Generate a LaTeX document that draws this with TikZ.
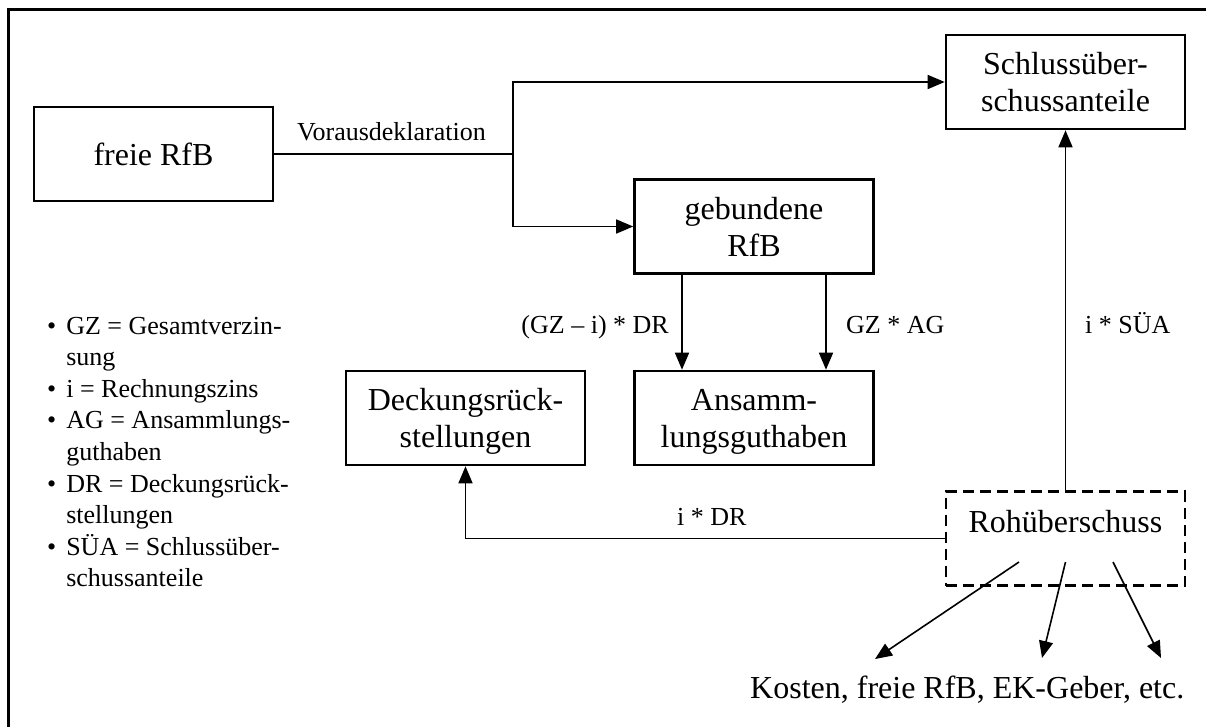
\documentclass[tikz,border=0pt]{standalone}
\usepackage{fontspec}
\setmainfont{Liberation Serif}
\usetikzlibrary{arrows.meta}
\begin{document}
\begin{tikzpicture}[x=1pt,y=-1pt,
  box/.style={draw, line width=2.6pt, minimum width=239pt, minimum height=94pt,
    align=center, inner sep=0pt, text depth=0pt, font=\fontsize{32}{37}\selectfont},
  dashbox/.style={box, dash pattern=on 11pt off 6pt, line width=2.4pt},
  flow/.style={line width=1.6pt, -{Triangle[length=17pt,width=14pt]}},
  lbl/.style={inner sep=0pt, font=\fontsize{26}{31.6}\selectfont}]
\useasboundingbox (0,0) rectangle (1206,726);
\draw[line width=3pt] (8,740)--(8,9)--(1210,9);
\node[box] (freie) at (153.5,154) {freie RfB};
\node[box] (schluss) at (1065.5,82) {Schlussüber-\\schussanteile};
\node[box] (gebunden) at (754,226.5) {gebundene\\RfB};
\node[box] (deckung) at (465.5,418) {Deckungsrück-\\stellungen};
\node[box] (ansamm) at (754,418) {Ansamm-\\lungsguthaben};
\node[dashbox, text height=22pt, text depth=35pt] (roh) at (1065.5,538.5) {Rohüberschuss};
\node[lbl, font=\fontsize{32}{37}\selectfont, anchor=base west] (rest) at (750,698)
  {Kosten, freie RfB, EK-Geber, etc.};
\coordinate (split) at (513,154);
\coordinate (kosten) at (875,659);
\coordinate (rfb) at (1042,658);
\coordinate (ekgeber) at (1161,658);
\draw[line width=1.6pt] (freie)--(split);
\draw[flow] (split) |- (schluss);
\draw[flow] (split) |- (gebunden);
\draw[flow] ([xshift=-72pt]gebunden.south)--([xshift=-72pt]ansamm.north);
\draw[flow] ([xshift=72pt]gebunden.south)--([xshift=72pt]ansamm.north);
\draw[flow] (roh)--(schluss);
\draw[flow] (roh) -| (deckung);
\draw[flow] ([xshift=-46.5pt,yshift=-23.5pt]roh.center)--(kosten);
\draw[flow] ([yshift=-23.5pt]roh.center)--(rfb);
\draw[flow] ([xshift=47.5pt,yshift=-23.5pt]roh.center)--(ekgeber);
\node[lbl, anchor=base] (voraus) at (391.5,140) {Vorausdeklaration};
\node[lbl, anchor=base east] (gzdr) at (669,333) {(GZ – i) * DR};
\node[lbl, anchor=base west] (gzag) at (846,333) {GZ * AG};
\node[lbl, anchor=base west] (isua) at (1085,333) {i * SÜA};
\node[lbl, anchor=base west] (idr) at (677,525) {i * DR};
\node[lbl, anchor=base west] (legende) at (47,334) {\begin{tabular}[t]{@{}l@{\hspace{10pt}}l@{}}
\textbullet & GZ = Gesamtverzin-\\
 & sung\\
\textbullet & i = Rechnungszins\\
\textbullet & AG = Ansammlungs-\\
 & guthaben\\
\textbullet & DR = Deckungsrück-\\
 & stellungen\\
\textbullet & SÜA = Schlussüber-\\
 & schussanteile
\end{tabular}};
\end{tikzpicture}
\end{document}
